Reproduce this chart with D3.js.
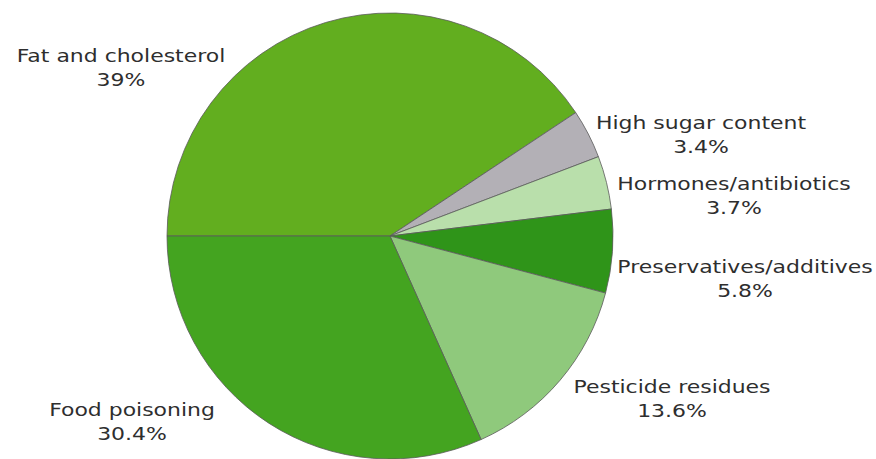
<!DOCTYPE html>
<html>
<head>
<meta charset="utf-8">
<script src="https://cdn.jsdelivr.net/npm/d3@7"></script>
<style>
  html, body { margin: 0; padding: 0; background: #fff; }
  svg { display: block; }
  .lbl { font-family: "DejaVu Sans", sans-serif; font-size: 18px; fill: #2e2e2e; }
</style>
</head>
<body>
<svg id="chart" width="876" height="459"></svg>
<script>
// Health concerns about food: share of respondents
const categories = ["Fat and cholesterol", "High sugar content", "Hormones/antibiotics",
                    "Preservatives/additives", "Pesticide residues", "Food poisoning"];
const values = [39, 3.4, 3.7, 5.8, 13.6, 30.4];
const valueLabels = ["39%", "3.4%", "3.7%", "5.8%", "13.6%", "30.4%"];
const colors = ["#62ae1f", "#b3b0b6", "#b9dfab", "#2f9419", "#8fc97c", "#44a420"];

// Label anchor points (centre of first text line)
const labelPos = [[121, 62], [701, 129], [734, 190], [745, 273], [672, 393], [132, 416]];

const svg = d3.select("#chart");
const cx = 390, cy = 236, r = 223;

const pie = d3.pie().sort(null).value(d => d)
  .startAngle(-Math.PI / 2).endAngle(3 * Math.PI / 2);
const arc = d3.arc().innerRadius(0).outerRadius(r);
const color = d3.scaleOrdinal().domain(categories).range(colors);

const g = svg.append("g").attr("transform", `translate(${cx},${cy})`);
g.selectAll("path")
  .data(pie(values))
  .join("path")
  .attr("d", arc)
  .attr("fill", (d, i) => color(categories[i]))
  .attr("stroke", "#5a5a5a")
  .attr("stroke-width", 0.8)
  .attr("stroke-linejoin", "round");

// Wide geometric lettering: stretch the sans face horizontally
const labels = svg.selectAll("text.lbl")
  .data(categories)
  .join("text")
  .attr("class", "lbl")
  .attr("text-anchor", "middle")
  .attr("transform", (d, i) => `translate(${labelPos[i][0]},${labelPos[i][1]}) scale(1.22,1)`);
labels.append("tspan").attr("x", 0).attr("y", 0).text(d => d);
labels.append("tspan")
  .attr("x", 0)
  .attr("dy", 24.5)
  .text((d, i) => valueLabels[i]);
</script>
</body>
</html>
